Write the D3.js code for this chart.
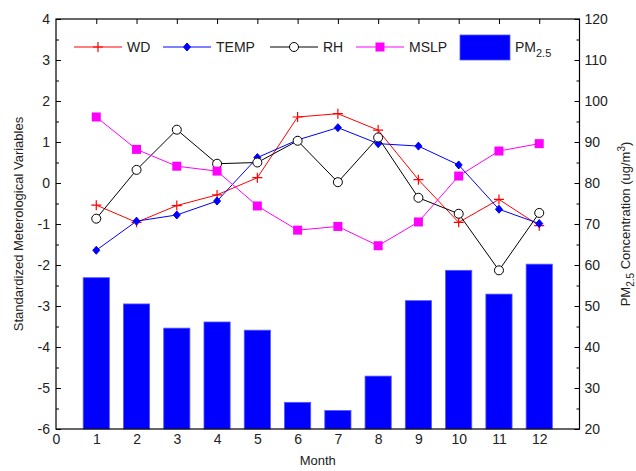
<!DOCTYPE html>
<html>
<head>
<meta charset="utf-8">
<script src="https://cdn.jsdelivr.net/npm/d3@7"></script>
<style>
  body { margin: 0; background: #fff; }
  svg { display: block; font-family: "Liberation Sans", Arial, sans-serif; }
</style>
</head>
<body>
<svg id="canvas" width="636" height="471"></svg>
<script>
const months = [1, 2, 3, 4, 5, 6, 7, 8, 9, 10, 11, 12];
const wd   = [-0.54, -0.96, -0.55, -0.29, 0.13, 1.61, 1.69, 1.29, 0.08, -0.96, -0.40, -1.04];
const temp = [-1.64, -0.93, -0.78, -0.44, 0.62, 1.05, 1.35, 0.96, 0.90, 0.44, -0.64, -0.99];
const rh   = [-0.87, 0.32, 1.30, 0.47, 0.50, 1.03, 0.02, 1.11, -0.36, -0.75, -2.13, -0.73];
const mslp = [1.61, 0.82, 0.41, 0.29, -0.56, -1.15, -1.06, -1.53, -0.95, 0.17, 0.78, 0.96];
const pm25 = [56.9, 50.5, 44.6, 46.1, 44.1, 26.5, 24.5, 32.9, 51.3, 58.7, 52.9, 60.2];

const leftTicks = [-6, -5, -4, -3, -2, -1, 0, 1, 2, 3, 4];
const rightTicks = [20, 30, 40, 50, 60, 70, 80, 90, 100, 110, 120];
const xTicks = [0, 1, 2, 3, 4, 5, 6, 7, 8, 9, 10, 11, 12];

let svg = d3.select("#canvas");
let pl = 56, pr = 579.5, pt = 19, pb = 429;

let x = d3.scaleLinear().domain([0, 13]).range([pl, pr]);
let y = d3.scaleLinear().domain([-6, 4]).range([pb, pt]);
let y2 = d3.scaleLinear().domain([20, 120]).range([pb, pt]);

// plain hyphen minus like the original
let fmt = (d) => String(d);

// bars
let barW = x(0.65) - x(0);
svg.selectAll(".bar")
    .data(months)
    .enter()
    .append("rect")
    .attr("class", "bar")
    .attr("x", (d) => x(d) - barW / 2)
    .attr("y", (d, i) => y2(pm25[i]))
    .attr("width", barW)
    .attr("height", (d, i) => pb - y2(pm25[i]))
    .attr("fill", "#0000ff")
    .attr("stroke", "#5555ff")
    .attr("stroke-width", 0.8);

// frame
svg.append("rect")
    .attr("x", pl).attr("y", pt)
    .attr("width", pr - pl).attr("height", pb - pt)
    .attr("fill", "none").attr("stroke", "#000").attr("stroke-width", 1.2);

// left axis
let la = svg.append("g").attr("transform", `translate(${pl},0)`)
    .call(d3.axisLeft(y).tickValues(leftTicks).tickFormat(fmt).tickSize(0).tickPadding(6));
la.select(".domain").remove();
la.selectAll("text").attr("font-size", 14).attr("font-family", "Liberation Sans, Arial").attr("fill", "#222");
svg.append("g").attr("transform", `translate(${pl},0)`)
    .call(d3.axisRight(y).ticks(20).tickSize(5).tickFormat(""))
    .call(g => g.select(".domain").remove())
    .selectAll(".tick line").attr("x2", (d) => Number.isInteger(d) ? 5 : 3).attr("stroke", "#000");

// right axis
let ra = svg.append("g").attr("transform", `translate(${pr},0)`)
    .call(d3.axisRight(y2).tickValues(rightTicks).tickFormat(fmt).tickSize(0).tickPadding(5));
ra.select(".domain").remove();
ra.selectAll("text").attr("font-size", 14).attr("font-family", "Liberation Sans, Arial").attr("fill", "#222");
svg.append("g").attr("transform", `translate(${pr},0)`)
    .call(d3.axisLeft(y2).ticks(20).tickFormat(""))
    .call(g => g.select(".domain").remove())
    .selectAll(".tick line").attr("x2", (d) => d % 10 === 0 ? -5 : -3).attr("stroke", "#000");

// bottom axis labels
let ba = svg.append("g").attr("transform", `translate(0,${pb})`)
    .call(d3.axisBottom(x).tickValues(xTicks).tickFormat(fmt).tickSize(0).tickPadding(5));
ba.select(".domain").remove();
ba.selectAll("text").attr("font-size", 14).attr("font-family", "Liberation Sans, Arial").attr("fill", "#222");

// top ticks
svg.append("g").attr("transform", `translate(0,${pt})`)
    .call(d3.axisBottom(x).tickValues(months).tickSize(5).tickFormat(""))
    .call(g => g.select(".domain").remove())
    .selectAll(".tick line").attr("stroke", "#000");

// axis titles
svg.append("text")
    .attr("transform", `translate(23,${(pt + pb) / 2}) rotate(-90)`)
    .attr("text-anchor", "middle")
    .attr("font-size", 13).attr("fill", "#222")
    .text("Standardized Meterological Variables");

let rt = svg.append("text")
    .attr("transform", `translate(630,${(pt + pb) / 2}) rotate(-90)`)
    .attr("text-anchor", "middle")
    .attr("font-size", 13).attr("fill", "#222");
rt.append("tspan").text("PM");
rt.append("tspan").attr("font-size", 10).attr("dy", 4).text("2.5");
rt.append("tspan").attr("dy", -4).text(" Concentration (ug/m");
rt.append("tspan").attr("font-size", 10).attr("dy", -5).text("3");
rt.append("tspan").attr("dy", 5).text(")");

svg.append("text")
    .attr("x", x(6.5)).attr("y", 465)
    .attr("text-anchor", "middle")
    .attr("font-size", 13).attr("fill", "#222")
    .text("Month");

// markers
let drawMarker = (g, type, color, cx, cy) => {
    if (type === "plus") {
        g.append("path").attr("d", `M${cx - 5},${cy}H${cx + 5}M${cx},${cy - 5}V${cy + 5}`)
            .attr("stroke", color).attr("stroke-width", 1.2).attr("fill", "none");
    } else if (type === "diamond") {
        g.append("path").attr("d", `M${cx},${cy - 4}L${cx + 3.5},${cy}L${cx},${cy + 4}L${cx - 3.5},${cy}Z`)
            .attr("fill", color).attr("stroke", color);
    } else if (type === "circle") {
        g.append("circle").attr("cx", cx).attr("cy", cy).attr("r", 4.5)
            .attr("fill", "#fff").attr("stroke", color).attr("stroke-width", 1);
    } else if (type === "square") {
        g.append("rect").attr("x", cx - 4.5).attr("y", cy - 4.5).attr("width", 9).attr("height", 9)
            .attr("fill", color);
    }
};

let series = [
    { name: "WD", values: wd, color: "#ff0000", marker: "plus" },
    { name: "TEMP", values: temp, color: "#0000ff", marker: "diamond" },
    { name: "RH", values: rh, color: "#000000", marker: "circle" },
    { name: "MSLP", values: mslp, color: "#ff00ff", marker: "square" }
];

let line = d3.line().x((d) => x(d[0])).y((d) => y(d[1]));

series.forEach((s) => {
    let pts = months.map((m, i) => [m, s.values[i]]);
    let g = svg.append("g");
    g.append("path")
        .attr("d", line(pts))
        .attr("fill", "none")
        .attr("stroke", s.color)
        .attr("stroke-width", 1);
    pts.forEach((p) => drawMarker(g, s.marker, s.color, x(p[0]), y(p[1])));
});

// legend
let legendX = [74, 163, 270, 356];
let legendY = 47;
series.forEach((s, i) => {
    let g = svg.append("g");
    let x0 = legendX[i];
    g.append("line").attr("x1", x0).attr("x2", x0 + 48)
        .attr("y1", legendY).attr("y2", legendY)
        .attr("stroke", s.color).attr("stroke-width", 1);
    drawMarker(g, s.marker, s.color, x0 + 24, legendY);
    g.append("text").attr("x", x0 + 53).attr("y", legendY + 5)
        .attr("font-size", 14).attr("fill", "#222").text(s.name);
});
svg.append("rect").attr("x", 460).attr("y", 35).attr("width", 50).attr("height", 25)
    .attr("fill", "#0000ff").attr("stroke", "#5555ff").attr("stroke-width", 0.8);
let lt = svg.append("text").attr("x", 515).attr("y", 52).attr("font-size", 14).attr("fill", "#222");
lt.append("tspan").text("PM");
lt.append("tspan").attr("font-size", 11).attr("dy", 5).text("2.5");
</script>
</body>
</html>
